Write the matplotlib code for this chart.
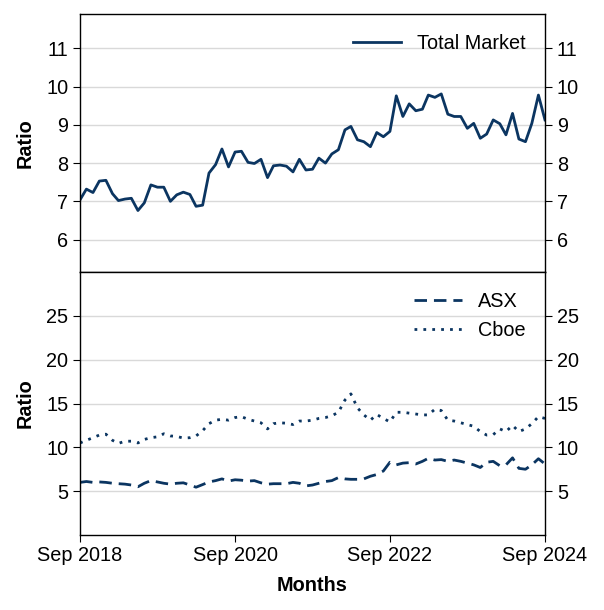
import matplotlib
matplotlib.use('Agg')
import matplotlib.pyplot as plt
import matplotlib.dates as mdates
import pandas as pd

plt.rcParams['font.family'] = ['Liberation Sans', 'DejaVu Sans']

# Monthly dates, Sep 2018 - Sep 2024
months = pd.date_range('2018-09-01', periods=73, freq='MS')

total_market = [7.04, 7.32, 7.23, 7.53, 7.55, 7.20, 7.02, 7.06, 7.08, 6.76,
                6.96, 7.43, 7.37, 7.37, 7.00, 7.17, 7.24, 7.18, 6.87, 6.90,
                7.74, 7.96, 8.37, 7.90, 8.29, 8.31, 8.02, 7.99, 8.10, 7.62,
                7.93, 7.95, 7.92, 7.77, 8.10, 7.82, 7.84, 8.13, 8.00, 8.24,
                8.35, 8.87, 8.96, 8.61, 8.56, 8.43, 8.80, 8.69, 8.83, 9.76,
                9.22, 9.55, 9.37, 9.41, 9.78, 9.72, 9.81, 9.28, 9.22, 9.22,
                8.91, 9.04, 8.65, 8.76, 9.13, 9.03, 8.74, 9.30, 8.63, 8.56,
                9.04, 9.78, 9.13]

asx = [6.00, 6.10, 6.00, 6.05, 6.00, 5.90, 5.85, 5.80, 5.70, 5.50,
       5.90, 6.20, 6.05, 5.90, 5.80, 5.90, 5.95, 5.70, 5.45, 5.75,
       6.05, 6.20, 6.40, 6.15, 6.30, 6.25, 6.15, 6.20, 5.95, 5.80,
       5.85, 5.85, 5.85, 6.00, 5.90, 5.60, 5.70, 5.90, 6.10, 6.20,
       6.55, 6.40, 6.35, 6.35, 6.40, 6.70, 6.90, 7.30, 8.30, 8.00,
       8.20, 8.25, 8.10, 8.40, 8.75, 8.55, 8.60, 8.40, 8.55, 8.40,
       8.20, 8.00, 7.70, 8.30, 8.40, 7.90, 8.00, 8.80, 7.60, 7.50,
       8.00, 8.70, 8.10]

cboe = [10.50, 10.80, 11.10, 11.40, 11.50, 10.80, 10.45, 10.70, 10.70, 10.50,
        10.90, 11.10, 11.20, 11.55, 11.30, 11.25, 11.05, 11.10, 11.30, 11.90,
        12.70, 13.10, 13.20, 13.10, 13.40, 13.50, 13.20, 13.00, 12.80, 12.10,
        12.70, 12.80, 12.75, 12.60, 13.00, 13.00, 13.10, 13.30, 13.40, 13.60,
        14.00, 15.40, 16.10, 14.50, 13.70, 13.10, 13.75, 13.30, 12.90, 14.00,
        14.00, 13.90, 13.80, 13.70, 13.70, 14.35, 14.20, 13.10, 13.00, 12.80,
        12.60, 12.40, 11.80, 11.40, 11.45, 12.10, 11.80, 12.50, 11.80, 12.10,
        12.70, 13.50, 13.30]

top_ticks = [6, 7, 8, 9, 10, 11]
bottom_ticks = [5, 10, 15, 20, 25]
x_ticks = pd.to_datetime(['2018-09-01', '2020-09-01', '2022-09-01', '2024-09-01'])

color = '#0b3561'
fs = 14.3

fig = plt.figure(figsize=(6.04, 6.1), dpi=100)
ax1 = fig.add_axes([0.1325, 0.554, 0.7698, 0.423])
ax2 = fig.add_axes([0.1325, 0.123, 0.7698, 0.431], sharex=ax1)

# Top panel
ax1.plot(months, total_market, color=color, linewidth=2, label='Total Market')
ax1.set_ylim(5.15, 11.9)
ax1.set_yticks(top_ticks)
ax1.set_ylabel('Ratio', fontsize=fs, fontweight='bold', labelpad=8)
ax1.legend(loc='upper right', frameon=False, fontsize=fs, handlelength=2.4,
           borderaxespad=0.6)

# Bottom panel
ax2.plot(months, asx, color=color, linewidth=2, linestyle=(0, (4.5, 2.5)), label='ASX')
ax2.plot(months, cboe, color=color, linewidth=2, linestyle=(0, (1, 2.2)), label='Cboe')
ax2.set_ylim(0, 30)
ax2.set_yticks(bottom_ticks)
ax2.set_ylabel('Ratio', fontsize=fs, fontweight='bold', labelpad=8)
ax2.set_xlabel('Months', fontsize=fs, fontweight='bold', labelpad=8)
ax2.legend(loc='upper right', frameon=False, fontsize=fs, handlelength=2.4,
           borderaxespad=0.6, labelspacing=0.5)

ax2.set_xlim(x_ticks[0], x_ticks[-1])
ax2.set_xticks(x_ticks)
ax2.xaxis.set_major_formatter(mdates.DateFormatter('%b %Y'))

for ax in (ax1, ax2):
    ax.grid(axis='y', color='#d9d9d9', linewidth=1)
    ax.set_axisbelow(True)
    ax.tick_params(axis='y', which='both', left=True, right=True,
                   labelleft=True, labelright=True, labelsize=fs, length=5)
    ax.tick_params(axis='x', labelsize=fs, length=5, pad=3)
    for s in ax.spines.values():
        s.set_linewidth(1)

ax1.tick_params(axis='x', bottom=False, labelbottom=False)

fig.savefig('out.png', dpi=100)
